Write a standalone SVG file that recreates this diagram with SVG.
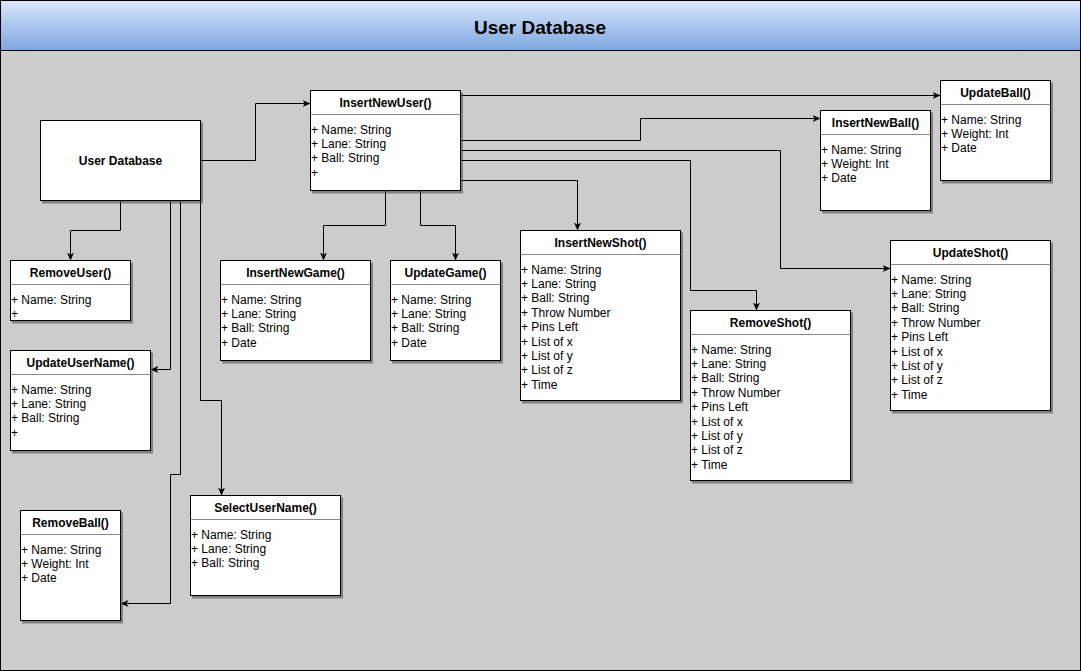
<svg xmlns="http://www.w3.org/2000/svg" width="1081" height="671" viewBox="0 0 1081 671">
<defs>
<linearGradient id="hdr" x1="0" y1="0" x2="0" y2="1">
<stop offset="0" stop-color="#dae8fc"/>
<stop offset="1" stop-color="#7ea6e0"/>
</linearGradient>
<filter id="shadow" x="-10%" y="-10%" width="130%" height="130%">
<feDropShadow dx="2" dy="2.5" stdDeviation="0.6" flood-color="#444" flood-opacity="0.55"/>
</filter>
<marker id="arr" markerWidth="10" markerHeight="8" refX="8" refY="3.5" orient="auto" markerUnits="userSpaceOnUse">
<path d="M0,0 L8,3.5 L0,7 L2.2,3.5 Z" fill="#000"/>
</marker>
</defs>
<style>
.box{fill:#fff;stroke:#000;stroke-width:1;filter:url(#shadow)}
.sep{stroke:#888;stroke-width:1}
.t{font-family:"Liberation Sans",Arial,sans-serif;font-size:12px;fill:#000}
.h{font-family:"Liberation Sans",Arial,sans-serif;font-size:12px;font-weight:bold;fill:#000;text-anchor:middle}
.c{fill:none;stroke:#000;stroke-width:1;marker-end:url(#arr)}
</style>

<g id="frame">
<rect x="0.5" y="0.5" width="1080" height="670" fill="#cccccc" stroke="#000"/>
<rect x="0.5" y="0.5" width="1080" height="50" fill="url(#hdr)" stroke="#000"/>
<text x="540" y="34" font-family="'Liberation Sans',Arial,sans-serif" font-size="19" font-weight="bold" text-anchor="middle">User Database</text>
</g>

<g id="connectors">
<path class="c" d="M200.5,160.5 H255.5 V103.5 H310.5"/>
<path class="c" d="M460.5,95.5 H940.5"/>
<path class="c" d="M460.5,140.5 H640.5 V118.5 H820.5"/>
<path class="c" d="M460.5,150.5 H780.5 V268.5 H890.5"/>
<path class="c" d="M460.5,160.5 H690.5 V290.5 H756.5 V310.5"/>
<path class="c" d="M460.5,180.5 H577.5 V230.5"/>
<path class="c" d="M385.5,190.5 V225.5 H323.5 V260.5"/>
<path class="c" d="M420.5,190.5 V225.5 H455.5 V260.5"/>
<path class="c" d="M120.5,200.5 V230.5 H70.5 V260.5"/>
<path class="c" d="M170.5,200.5 V369.5 H150.5"/>
<path class="c" d="M180.5,200.5 V474.5 H170.5 V603.5 H120.5"/>
<path class="c" d="M200.5,200.5 V400.5 H221.5 V495.5"/>
</g>

<g id="UserDatabase">
<rect class="box" x="40.5" y="120.5" width="160" height="80"/>
<text class="h" x="120.5" y="165">User Database</text>
</g>

<g id="InsertNewUser">
<rect class="box" x="310.5" y="90.5" width="150" height="100"/>
<line class="sep" x1="310.5" y1="114.5" x2="460.5" y2="114.5"/>
<text class="h" x="385.5" y="106.5">InsertNewUser()</text>
<text class="t" x="311" y="133.5">+ Name: String</text>
<text class="t" x="311" y="147.9">+ Lane: String</text>
<text class="t" x="311" y="162.3">+ Ball: String</text>
<text class="t" x="311" y="176.7">+</text>
</g>

<g id="UpdateBall">
<rect class="box" x="940.5" y="80.5" width="110" height="100"/>
<line class="sep" x1="940.5" y1="104.5" x2="1050.5" y2="104.5"/>
<text class="h" x="995.5" y="96.5">UpdateBall()</text>
<text class="t" x="941" y="123.5">+ Name: String</text>
<text class="t" x="941" y="137.9">+ Weight: Int</text>
<text class="t" x="941" y="152.3">+ Date</text>
</g>

<g id="InsertNewBall">
<rect class="box" x="820.5" y="110.5" width="110" height="100"/>
<line class="sep" x1="820.5" y1="134.5" x2="930.5" y2="134.5"/>
<text class="h" x="875.5" y="126.5">InsertNewBall()</text>
<text class="t" x="821" y="153.5">+ Name: String</text>
<text class="t" x="821" y="167.9">+ Weight: Int</text>
<text class="t" x="821" y="182.3">+ Date</text>
</g>

<g id="RemoveUser">
<rect class="box" x="10.5" y="260.5" width="120" height="60"/>
<line class="sep" x1="10.5" y1="284.5" x2="130.5" y2="284.5"/>
<text class="h" x="70.5" y="276.5">RemoveUser()</text>
<text class="t" x="11" y="303.5">+ Name: String</text>
<text class="t" x="11" y="317.9">+</text>
</g>

<g id="UpdateUserName">
<rect class="box" x="10.5" y="350.5" width="140" height="100"/>
<line class="sep" x1="10.5" y1="374.5" x2="150.5" y2="374.5"/>
<text class="h" x="80.5" y="366.5">UpdateUserName()</text>
<text class="t" x="11" y="393.5">+ Name: String</text>
<text class="t" x="11" y="407.9">+ Lane: String</text>
<text class="t" x="11" y="422.3">+ Ball: String</text>
<text class="t" x="11" y="436.7">+</text>
</g>

<g id="RemoveBall">
<rect class="box" x="20.5" y="510.5" width="100" height="110"/>
<line class="sep" x1="20.5" y1="534.5" x2="120.5" y2="534.5"/>
<text class="h" x="70.5" y="526.5">RemoveBall()</text>
<text class="t" x="21" y="553.5">+ Name: String</text>
<text class="t" x="21" y="567.9">+ Weight: Int</text>
<text class="t" x="21" y="582.3">+ Date</text>
</g>

<g id="SelectUserName">
<rect class="box" x="190.5" y="495.5" width="150" height="100"/>
<line class="sep" x1="190.5" y1="519.5" x2="340.5" y2="519.5"/>
<text class="h" x="265.5" y="511.5">SelectUserName()</text>
<text class="t" x="191" y="538.5">+ Name: String</text>
<text class="t" x="191" y="552.9">+ Lane: String</text>
<text class="t" x="191" y="567.3">+ Ball: String</text>
</g>

<g id="InsertNewGame">
<rect class="box" x="220.5" y="260.5" width="150" height="100"/>
<line class="sep" x1="220.5" y1="284.5" x2="370.5" y2="284.5"/>
<text class="h" x="295.5" y="276.5">InsertNewGame()</text>
<text class="t" x="221" y="303.5">+ Name: String</text>
<text class="t" x="221" y="317.9">+ Lane: String</text>
<text class="t" x="221" y="332.3">+ Ball: String</text>
<text class="t" x="221" y="346.7">+ Date</text>
</g>

<g id="UpdateGame">
<rect class="box" x="390.5" y="260.5" width="110" height="100"/>
<line class="sep" x1="390.5" y1="284.5" x2="500.5" y2="284.5"/>
<text class="h" x="445.5" y="276.5">UpdateGame()</text>
<text class="t" x="391" y="303.5">+ Name: String</text>
<text class="t" x="391" y="317.9">+ Lane: String</text>
<text class="t" x="391" y="332.3">+ Ball: String</text>
<text class="t" x="391" y="346.7">+ Date</text>
</g>

<g id="InsertNewShot">
<rect class="box" x="520.5" y="230.5" width="160" height="170"/>
<line class="sep" x1="520.5" y1="254.5" x2="680.5" y2="254.5"/>
<text class="h" x="600.5" y="246.5">InsertNewShot()</text>
<text class="t" x="521" y="273.5">+ Name: String</text>
<text class="t" x="521" y="287.9">+ Lane: String</text>
<text class="t" x="521" y="302.3">+ Ball: String</text>
<text class="t" x="521" y="316.7">+ Throw Number</text>
<text class="t" x="521" y="331.1">+ Pins Left</text>
<text class="t" x="521" y="345.5">+ List of x</text>
<text class="t" x="521" y="359.9">+ List of y</text>
<text class="t" x="521" y="374.3">+ List of z</text>
<text class="t" x="521" y="388.7">+ Time</text>
</g>

<g id="RemoveShot">
<rect class="box" x="690.5" y="310.5" width="160" height="170"/>
<line class="sep" x1="690.5" y1="334.5" x2="850.5" y2="334.5"/>
<text class="h" x="770.5" y="326.5">RemoveShot()</text>
<text class="t" x="691" y="353.5">+ Name: String</text>
<text class="t" x="691" y="367.9">+ Lane: String</text>
<text class="t" x="691" y="382.3">+ Ball: String</text>
<text class="t" x="691" y="396.7">+ Throw Number</text>
<text class="t" x="691" y="411.1">+ Pins Left</text>
<text class="t" x="691" y="425.5">+ List of x</text>
<text class="t" x="691" y="439.9">+ List of y</text>
<text class="t" x="691" y="454.3">+ List of z</text>
<text class="t" x="691" y="468.7">+ Time</text>
</g>

<g id="UpdateShot">
<rect class="box" x="890.5" y="240.5" width="160" height="170"/>
<line class="sep" x1="890.5" y1="264.5" x2="1050.5" y2="264.5"/>
<text class="h" x="970.5" y="256.5">UpdateShot()</text>
<text class="t" x="891" y="283.5">+ Name: String</text>
<text class="t" x="891" y="297.9">+ Lane: String</text>
<text class="t" x="891" y="312.3">+ Ball: String</text>
<text class="t" x="891" y="326.7">+ Throw Number</text>
<text class="t" x="891" y="341.1">+ Pins Left</text>
<text class="t" x="891" y="355.5">+ List of x</text>
<text class="t" x="891" y="369.9">+ List of y</text>
<text class="t" x="891" y="384.3">+ List of z</text>
<text class="t" x="891" y="398.7">+ Time</text>
</g>
</svg>
